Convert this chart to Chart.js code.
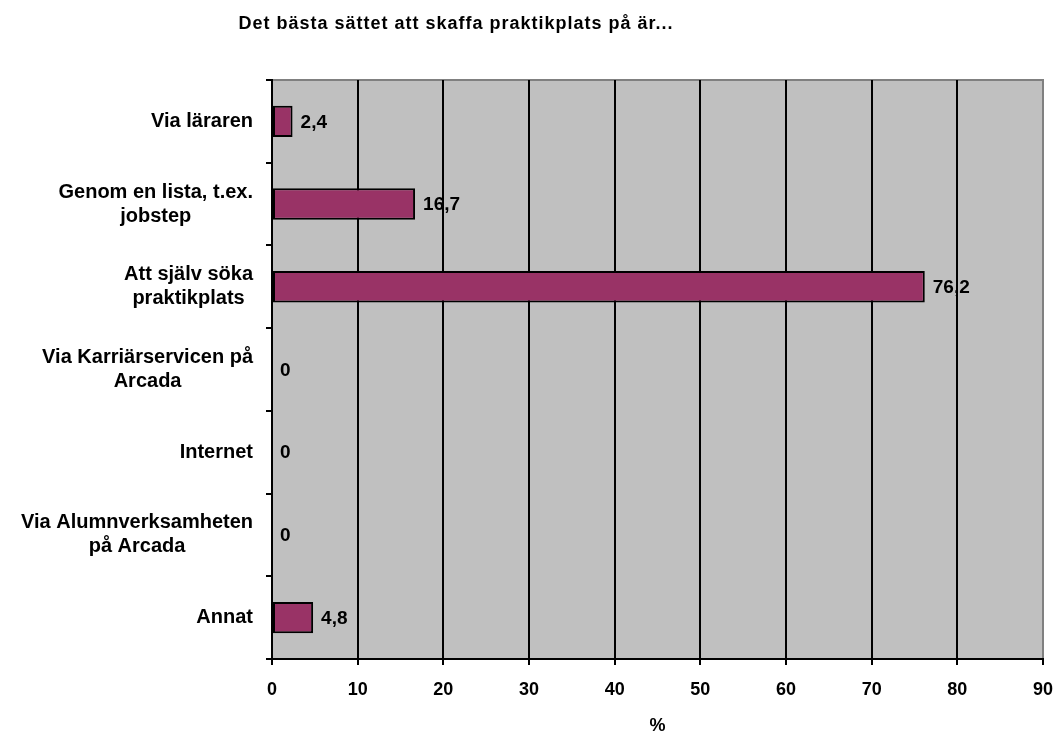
<!DOCTYPE html>
<html>
<head>
<meta charset="utf-8">
<script src="https://cdn.jsdelivr.net/npm/chart.js@4.4.1/dist/chart.umd.min.js"></script>
<style>
  html, body { margin: 0; padding: 0; background: #fff; }
</style>
</head>
<body>
<canvas id="myChart" width="1056" height="733"></canvas>
<script>
// données
const chartTitle = 'Det bästa sättet att skaffa praktikplats på är...';
const categories = [
    ['Via läraren'],
    ['Genom en lista, t.ex.', 'jobstep'],
    ['Att själv söka', 'praktikplats'],
    ['Via Karriärservicen på', 'Arcada'],
    ['Internet'],
    ['Via Alumnverksamheten', 'på Arcada'],
    ['Annat']
];
const values = [2.4, 16.7, 76.2, 0, 0, 0, 4.8];
const xMin = 0, xMax = 90, xStep = 10;
const xAxisTitle = '%';

const FONT = '"Liberation Sans", Arial, sans-serif';

// fond gris + bordure haut/droite
const plotBackground = {
    id: 'plotBackground',
    beforeDraw(chart) {
        const { ctx, chartArea: a } = chart;
        ctx.save();
        ctx.fillStyle = '#c0c0c0';
        ctx.fillRect(a.left, a.top, a.right - a.left, a.bottom - a.top);
        ctx.strokeStyle = '#808080';
        ctx.lineWidth = 2;
        ctx.beginPath();
        ctx.moveTo(a.left, a.top);
        ctx.lineTo(a.right, a.top);
        ctx.lineTo(a.right, a.bottom);
        ctx.stroke();
        ctx.restore();
    }
};

// titre + étiquettes de catégories (lignes centrées, bloc aligné à droite)
const textPlugin = {
    id: 'textPlugin',
    afterDraw(chart) {
        const { ctx } = chart;
        ctx.save();
        ctx.fillStyle = '#000';
        ctx.font = 'bold 18px ' + FONT;
        ctx.textAlign = 'center';
        ctx.textBaseline = 'middle';
        ctx.letterSpacing = '1px';
        ctx.fillText(chartTitle, 456, 24);
        ctx.letterSpacing = '0px';

        const yScale = chart.scales.y;
        ctx.font = 'bold 20px ' + FONT;
        categories.forEach((lines, i) => {
            const y = yScale.getPixelForTick(i);
            const maxW = Math.max(...lines.map(l => ctx.measureText(l).width));
            const cx = yScale.right - 19 - maxW / 2;
            const y0 = y - (lines.length - 1) * 12;
            lines.forEach((l, j) => ctx.fillText(l, cx, y0 + j * 24));
        });
        ctx.restore();
    }
};

// valeurs au bout des barres
const valueLabels = {
    id: 'valueLabels',
    afterDatasetsDraw(chart) {
        const { ctx } = chart;
        const meta = chart.getDatasetMeta(0);
        ctx.save();
        ctx.fillStyle = '#000';
        ctx.font = 'bold 19px ' + FONT;
        ctx.textAlign = 'left';
        ctx.textBaseline = 'middle';
        meta.data.forEach((bar, i) => {
            ctx.fillText(values[i].toString().replace('.', ','), bar.x + 8, bar.y + 1);
        });
        ctx.restore();
    }
};

const ctx = document.getElementById('myChart').getContext('2d');
new Chart(ctx, {
    type: 'bar',
    data: {
        labels: categories,
        datasets: [{
            data: values,
            backgroundColor: '#993366',
            borderColor: '#000',
            borderWidth: 2,
            borderSkipped: false,
            barPercentage: 0.38,
            categoryPercentage: 1
        }]
    },
    options: {
        indexAxis: 'y',
        responsive: false,
        animation: false,
        layout: { padding: { left: 0, top: 80, right: 13, bottom: 0 } },
        plugins: {
            legend: { display: false },
            title: { display: false },
            tooltip: { enabled: false }
        },
        scales: {
            x: {
                min: xMin,
                max: xMax,
                afterFit: s => { s.height = 74; s.paddingLeft = 0; s.paddingRight = 0; },
                ticks: {
                    stepSize: xStep,
                    color: '#000',
                    font: { family: FONT, size: 18, weight: 'bold' },
                    padding: 14
                },
                grid: {
                    color: c => (c.tick && c.tick.value === xMax) ? '#808080' : '#000',
                    tickColor: '#000',
                    lineWidth: 2,
                    tickLength: 6
                },
                border: { color: '#000', width: 2 },
                title: {
                    display: true,
                    text: xAxisTitle,
                    color: '#000',
                    font: { family: FONT, size: 18, weight: 'bold' },
                    padding: { top: 0, bottom: -4 }
                }
            },
            y: {
                afterFit: s => { s.width = 272; s.paddingTop = 0; s.paddingBottom = 0; },
                ticks: { display: false },
                grid: {
                    drawOnChartArea: false,
                    drawTicks: true,
                    tickLength: 6,
                    color: '#000',
                    lineWidth: 2,
                    offset: true
                },
                border: { color: '#000', width: 2 }
            }
        }
    },
    plugins: [plotBackground, textPlugin, valueLabels]
});
</script>
</body>
</html>
